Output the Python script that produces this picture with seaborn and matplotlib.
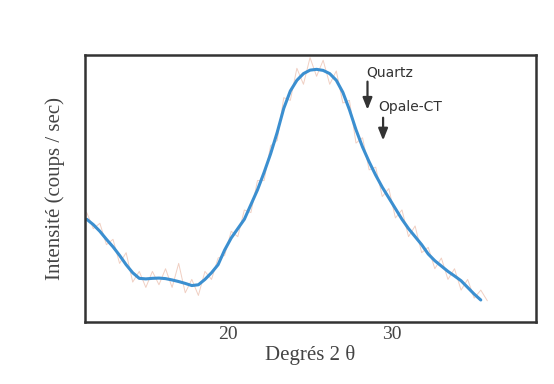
import numpy as np
import pandas as pd
import matplotlib
matplotlib.use("Agg")
import matplotlib.pyplot as plt
import seaborn as sns

# raw diffractogram (noisy trace) and smoothed curve
two_theta = [11.4, 11.8, 12.2, 12.6, 13.0, 13.4, 13.8, 14.2, 14.6, 15.0, 15.4, 15.8,
             16.2, 16.6, 17.0, 17.4, 17.8, 18.2, 18.6, 19.0, 19.4, 19.8, 20.2, 20.6,
             21.0, 21.4, 21.8, 22.2, 22.6, 23.0, 23.4, 23.8, 24.2, 24.6, 25.0, 25.4,
             25.8, 26.2, 26.6, 27.0, 27.4, 27.8, 28.2, 28.6, 29.0, 29.4, 29.8, 30.2,
             30.6, 31.0, 31.4, 31.8, 32.2, 32.6, 33.0, 33.4, 33.8, 34.2, 34.6, 35.0,
             35.4, 35.8]
raw_counts = [41, 35, 37, 29, 31, 22, 26, 15, 19, 13, 19, 14,
              20, 13, 22, 11, 16, 10, 19, 16, 24, 25, 34, 32,
              42, 41, 53, 53, 66, 68, 84, 83, 95, 89, 99, 92,
              98, 89, 94, 82, 83, 67, 69, 57, 58, 47, 50, 39,
              42, 32, 36, 26, 28, 20, 24, 16, 20, 12, 16, 9,
              12, 8]
smooth_counts = [38.5, 36.5, 34, 31, 28.2, 25, 21.5, 18.5, 16.4, 16.2, 16.4, 16.5,
                 16.3, 15.8, 15.2, 14.5, 13.7, 14, 16, 18.5, 21.5, 27, 31.5, 35,
                 38.5, 44, 49.5, 56, 63, 71, 80, 86.5, 90.5, 93, 94.3, 94.6,
                 94.2, 93, 90.5, 86, 79.5, 72, 65.5, 60, 55, 50.5, 46.5, 42.5,
                 38.5, 35, 32, 29, 25.5, 23, 21, 19, 17.3, 15.5, 13, 10.5,
                 8.3, None]

peaks = ["Quartz", "Opale-CT"]
peak_pos = [28.5, 29.45]

df = pd.DataFrame({"theta": two_theta, "raw": raw_counts,
                   "smooth": pd.array(smooth_counts, dtype="Float64")})
df["smooth"] = df["smooth"].astype(float)

sns.set_style("white")
fig = plt.figure(figsize=(5.54, 3.84), dpi=100)
ax = fig.add_axes([0.153, 0.161, 0.815, 0.696])

sns.lineplot(data=df, x="theta", y="raw", ax=ax, color="#ebbfae", lw=0.7, alpha=0.75)
sns.lineplot(data=df.dropna(), x="theta", y="smooth", ax=ax, color="#3b8fd0", lw=2.2)

ax.set_xlim(11.28, 38.78)
ax.set_ylim(0, 100)
ax.set_xticks([20, 30])
ax.set_yticks([])
ax.tick_params(axis="x", direction="in", length=8, width=1.5, color="#333333",
               labelsize=14, pad=3)
for lab in ax.get_xticklabels():
    lab.set_family("Liberation Serif")
    lab.set_color("#444444")
for s in ax.spines.values():
    s.set_color("#333333")
    s.set_linewidth(1.8)

ax.set_xlabel("Degrés 2 θ", family="Liberation Serif", fontsize=15, color="#444444", labelpad=1)
ax.set_ylabel("Intensité (coups / sec)", family="Liberation Serif", fontsize=15,
              color="#444444", labelpad=14)

# peak markers
arrow = dict(arrowstyle="-|>,head_width=0.28,head_length=0.7", color="#333333", lw=1.6,
             shrinkA=0, shrinkB=0)
ax.annotate("", xy=(peak_pos[0], 79.5), xytext=(peak_pos[0], 90), arrowprops=arrow)
ax.annotate("", xy=(peak_pos[1], 68), xytext=(peak_pos[1], 76.5), arrowprops=arrow)
ax.text(peak_pos[0] - 0.05, 93.5, peaks[0], family="DejaVu Sans", fontsize=10,
        color="#333333", ha="left", va="center")
ax.text(peak_pos[0] + 0.65, 80.5, peaks[1], family="DejaVu Sans", fontsize=10,
        color="#333333", ha="left", va="center")

fig.savefig("out.png", dpi=100)
